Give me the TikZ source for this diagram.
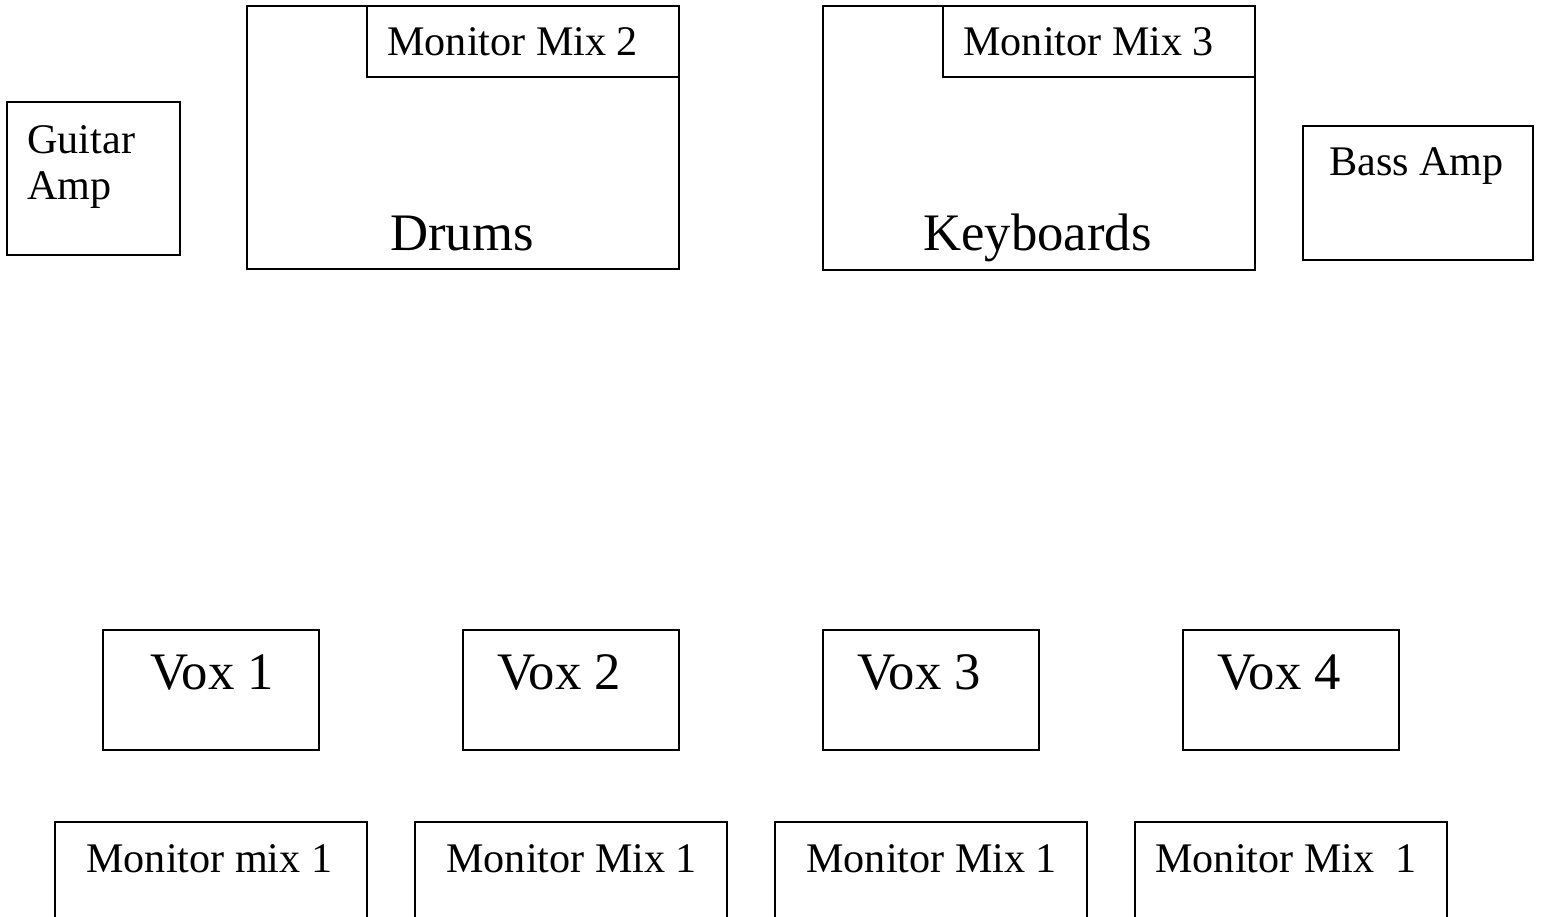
\documentclass[tikz,border=0pt]{standalone}
\usepackage{fontspec}
\setmainfont{Liberation Serif}
\usetikzlibrary{positioning}

\begin{document}
\begin{tikzpicture}[
    x=0.02cm, y=-0.02cm, % one unit is one pixel of the stage plan
    box/.style={draw, line width=1.2pt, inner sep=0pt, anchor=north west}, % outline of a stage item
    smalltext/.style={anchor=base west, inner sep=0pt, align=left, font=\fontsize{24}{26}\selectfont}, % small labels
    bigtext/.style={anchor=base west, inner sep=0pt, font=\fontsize{30}{36}\selectfont} % large labels
  ]

  % --- Page frame ---
  \useasboundingbox (0,0) rectangle (1543,917);
  \clip (0,0) rectangle (1543,917);

  % --- Back line ---
  \node[box, minimum width=3.46cm, minimum height=3.06cm] (guitaramp) at (6,101) {};
  \node[smalltext] (guitaramp-text) at (27,199) {Guitar\\Amp}; % base is the last line

  \node[box, minimum width=8.64cm, minimum height=5.26cm] (drums) at (246,5) {};
  \node[box, minimum width=6.24cm, minimum height=1.42cm] (mixtwo) at (366,5) {};
  \node[smalltext] (mixtwo-text) at (387,55) {Monitor Mix 2};
  \node[bigtext] (drums-text) at (390,250) {Drums};

  \node[box, minimum width=8.64cm, minimum height=5.28cm] (keys) at (822,5) {};
  \node[box, minimum width=6.24cm, minimum height=1.42cm] (mixthree) at (942,5) {};
  \node[smalltext] (mixthree-text) at (963,55) {Monitor Mix 3};
  \node[bigtext] (keys-text) at (923,250) {Keyboards};

  \node[box, minimum width=4.6cm, minimum height=2.68cm] (bassamp) at (1302,125) {};
  \node[smalltext] (bassamp-text) at (1329,175) {Bass Amp};

  % --- Front line: vocal positions ---
  \foreach \i/\dx in {1/48, 2/35, 3/35, 4/35} {
      \node[box, minimum width=4.32cm, minimum height=2.4cm] (vox\i) at ({102+360*(\i-1)},629) {};
      \node[bigtext] (vox\i-text) at ({102+360*(\i-1)+\dx},689) {Vox \i};
  }

  % --- Front line: wedges (run off the page edge) ---
  \foreach \i/\name/\dx in {1/{Monitor mix 1}/32, 2/{Monitor Mix 1}/32, 3/{Monitor Mix 1}/32, 4/{Monitor Mix\ \ 1}/21} {
      \node[box, minimum width=6.24cm, minimum height=2.4cm] (mon\i) at ({54+360*(\i-1)},821) {};
      \node[smalltext] (mon\i-text) at ({54+360*(\i-1)+\dx},872) {\name};
  }

\end{tikzpicture}
\end{document}
